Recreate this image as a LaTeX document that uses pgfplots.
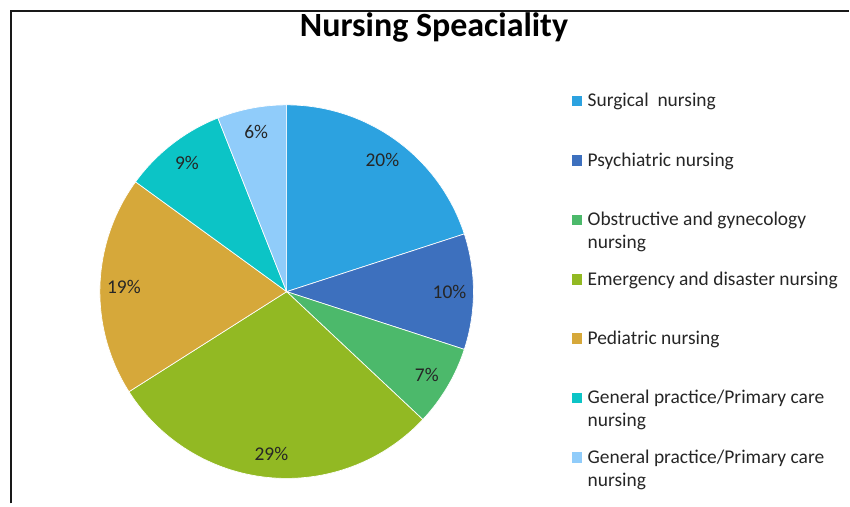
\documentclass[border=0pt]{standalone}
\usepackage{pgfplots}
\pgfplotsset{compat=1.18}
\usepackage{fontspec}
\setmainfont{Carlito}
\definecolor{cA}{RGB}{44,162,224}
\definecolor{cB}{RGB}{61,112,190}
\definecolor{cC}{RGB}{76,185,107}
\definecolor{cD}{RGB}{146,185,35}
\definecolor{cE}{RGB}{214,168,58}
\definecolor{cF}{RGB}{12,196,198}
\definecolor{cG}{RGB}{144,204,250}
\definecolor{txt}{RGB}{38,38,38}
\newcommand\lgt[1]{\parbox[t]{195pt}{\fontsize{14.6}{17.25}\selectfont\raggedright\strut #1}}
\begin{document}
\begin{tikzpicture}
% slice values (percent)
\def\vA{20}\def\vB{10}\def\vC{7}\def\vD{29}\def\vE{19}\def\vF{9}\def\vG{6}
\pgfmathsetmacro\tA{90}
\pgfmathsetmacro\tB{\tA-3.6*\vA}
\pgfmathsetmacro\tC{\tB-3.6*\vB}
\pgfmathsetmacro\tD{\tC-3.6*\vC}
\pgfmathsetmacro\tE{\tD-3.6*\vD}
\pgfmathsetmacro\tF{\tE-3.6*\vE}
\pgfmathsetmacro\tG{\tF-3.6*\vF}
\pgfmathsetmacro\tH{\tG-3.6*\vG}
\def\cx{287}\def\cy{212}\def\R{187}\def\Rl{163}
\begin{axis}[
  scale only axis, width=637.5pt, height=378pt,
  xmin=0, xmax=850, ymin=0, ymax=504,
  hide axis, clip=false,
  legend image code/.code={\fill[#1,draw=none] (0pt,0.4pt) rectangle (7.5pt,8.25pt);},
  legend cell align=left,
  legend style={at={(0.67412,0.81964)}, anchor=north west, draw=none, fill=none,
    inner sep=0pt, outer sep=0pt, row sep=0pt, column sep=0pt,
    nodes={inner sep=0pt, outer sep=0pt, anchor=base west, text=txt,
      text height=12.08pt, text depth=32.52pt},
    /tikz/every odd column/.style={column sep=4pt}},
]
\addplot[draw=none, forget plot] coordinates {(0,0) (850,504)};
\addplot[forget plot, line width=1.5pt, color=black!90, line join=miter] coordinates {(11,0) (11,493) (850,493)};

\addplot[fill=cA, draw=white, line width=0.5pt, domain=\tB:\tA, samples=80] ({\cx+\R*cos(x)},{\cy+\R*sin(x)}) -- (axis cs:\cx,\cy) -- cycle;
\addlegendentry{\lgt{Surgical~ nursing}}
\addplot[fill=cB, draw=white, line width=0.5pt, domain=\tC:\tB, samples=60] ({\cx+\R*cos(x)},{\cy+\R*sin(x)}) -- (axis cs:\cx,\cy) -- cycle;
\addlegendentry{\lgt{Psychiatric nursing}}
\addplot[fill=cC, draw=white, line width=0.5pt, domain=\tD:\tC, samples=60] ({\cx+\R*cos(x)},{\cy+\R*sin(x)}) -- (axis cs:\cx,\cy) -- cycle;
\addlegendentry{\lgt{Obstructive and gynecology\newline nursing}}
\addplot[fill=cD, draw=white, line width=0.5pt, domain=\tE:\tD, samples=100] ({\cx+\R*cos(x)},{\cy+\R*sin(x)}) -- (axis cs:\cx,\cy) -- cycle;
\addlegendentry{\lgt{Emergency and disaster nursing}}
\addplot[fill=cE, draw=white, line width=0.5pt, domain=\tF:\tE, samples=80] ({\cx+\R*cos(x)},{\cy+\R*sin(x)}) -- (axis cs:\cx,\cy) -- cycle;
\addlegendentry{\lgt{Pediatric nursing}}
\addplot[fill=cF, draw=white, line width=0.5pt, domain=\tG:\tF, samples=60] ({\cx+\R*cos(x)},{\cy+\R*sin(x)}) -- (axis cs:\cx,\cy) -- cycle;
\addlegendentry{\lgt{General practice/Primary care\newline nursing}}
\addplot[fill=cG, draw=white, line width=0.5pt, domain=\tH:\tG, samples=60] ({\cx+\R*cos(x)},{\cy+\R*sin(x)}) -- (axis cs:\cx,\cy) -- cycle;
\addlegendentry{\lgt{General practice/Primary care\newline nursing}}

\pgfmathsetmacro\mA{(\tA+\tB)/2}
\pgfmathsetmacro\mB{(\tB+\tC)/2}
\pgfmathsetmacro\mC{(\tC+\tD)/2}
\pgfmathsetmacro\mD{(\tD+\tE)/2}
\pgfmathsetmacro\mE{(\tE+\tF)/2}
\pgfmathsetmacro\mF{(\tF+\tG)/2}
\pgfmathsetmacro\mG{(\tG+\tH)/2}
\tikzset{lbl/.style={font=\fontsize{14.6}{17}\selectfont, text=txt, inner sep=0pt}}
\node[lbl] at (axis cs:{\cx+\Rl*cos(\mA)},{\cy+\Rl*sin(\mA)}) {\vA\%};
\node[lbl] at (axis cs:{\cx+\Rl*cos(\mB)},{\cy+\Rl*sin(\mB)}) {\vB\%};
\node[lbl] at (axis cs:{\cx+\Rl*cos(\mC)},{\cy+\Rl*sin(\mC)}) {\vC\%};
\node[lbl] at (axis cs:{\cx+\Rl*cos(\mD)},{\cy+\Rl*sin(\mD)}) {\vD\%};
\node[lbl] at (axis cs:{\cx+\Rl*cos(\mE)},{\cy+\Rl*sin(\mE)}) {\vE\%};
\node[lbl] at (axis cs:{\cx+\Rl*cos(\mF)},{\cy+\Rl*sin(\mF)}) {\vF\%};
\node[lbl] at (axis cs:{\cx+\Rl*cos(\mG)},{\cy+\Rl*sin(\mG)}) {\vG\%};

\node[anchor=base west, inner sep=0pt, font=\fontsize{25.5}{30}\selectfont\bfseries, text=black] at (axis cs:300,467) {Nursing Speaciality};
\end{axis}
\end{tikzpicture}
\end{document}
